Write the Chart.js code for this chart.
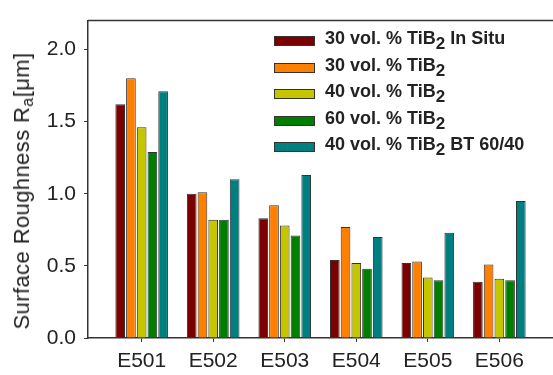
<!DOCTYPE html>
<html lang="en">
<head>
    <meta charset="UTF-8">
    <title>Surface Roughness</title>
    <script src="https://cdn.jsdelivr.net/npm/chart.js"></script>
    <style>
        body {
            margin: 0;
            background: #fff;
            font-family: 'Liberation Sans', Arial, sans-serif;
        }

        #wrap {
            position: relative;
            width: 553px;
            height: 375px;
        }

        #ytitle {
            position: absolute;
            left: 23px;
            top: 191px;
            transform: translate(-50%, -50%) rotate(-90deg);
            white-space: nowrap;
            font-size: 22px;
            letter-spacing: 0.4px;
            color: #222;
        }

        #ytitle sub {
            font-size: 16px;
            vertical-align: -4px;
        }

        #legend {
            position: absolute;
            left: 274px;
            top: 28px;
        }

        .row {
            display: flex;
            align-items: center;
            height: 26.5px;
            font-weight: bold;
            font-size: 18px;
            color: #222;
        }

        .row .box {
            width: 39px;
            height: 8px;
            border: 1px solid #333;
            margin-right: 10px;
        }

        .row sub {
            font-size: 17px;
            vertical-align: -5px;
        }
    </style>
</head>
<body>
    <div id="wrap">
        <canvas id="chart" width="553" height="375"></canvas>
        <div id="ytitle">Surface Roughness R<sub>a</sub>[μm]</div>
        <div id="legend"></div>
    </div>

    <script>
        const categories = ['E501', 'E502', 'E503', 'E504', 'E505', 'E506'];
        const yTicks = [0, 0.5, 1.0, 1.5, 2.0];

        const inSitu30 = [1.62, 1.00, 0.83, 0.54, 0.52, 0.39];
        const tib30 = [1.80, 1.01, 0.92, 0.77, 0.53, 0.51];
        const tib40 = [1.46, 0.82, 0.78, 0.52, 0.42, 0.41];
        const tib60 = [1.29, 0.82, 0.71, 0.48, 0.40, 0.40];
        const bt4060 = [1.71, 1.10, 1.13, 0.70, 0.73, 0.95];

        // legend label: [before sub, sub, after sub]
        const series = [
            { name: ['30 vol. % TiB', '2', ' In Situ'], data: inSitu30, color: '#7d0000' },
            { name: ['30 vol. % TiB', '2', ''], data: tib30, color: '#ff8000' },
            { name: ['40 vol. % TiB', '2', ''], data: tib40, color: '#c6c600' },
            { name: ['60 vol. % TiB', '2', ''], data: tib60, color: '#007e00' },
            { name: ['40 vol. % TiB', '2', ' BT 60/40'], data: bt4060, color: '#007f80' },
        ];

        const legend = document.getElementById('legend');
        series.forEach(s => {
            const row = document.createElement('div');
            row.className = 'row';
            row.innerHTML = `<span class="box" style="background:${s.color}"></span>` +
                `<span>${s.name[0]}<sub>${s.name[1]}</sub>${s.name[2]}</span>`;
            legend.appendChild(row);
        });

        const topLine = {
            id: 'topLine',
            afterDraw(chart) {
                const { ctx, chartArea } = chart;
                ctx.save();
                ctx.strokeStyle = '#333';
                ctx.lineWidth = 1.5;
                ctx.beginPath();
                ctx.moveTo(chartArea.left, chartArea.top);
                ctx.lineTo(chartArea.right, chartArea.top);
                ctx.stroke();
                ctx.restore();
            }
        };

        new Chart(document.getElementById('chart'), {
            type: 'bar',
            data: {
                datasets: series.map(s => ({
                    label: s.name.join(''),
                    data: s.data.map((v, i) => ({ x: i + 1, y: v })),
                    backgroundColor: s.color,
                    borderColor: '#333',
                    borderWidth: 1,
                    categoryPercentage: 0.75,
                    barPercentage: 0.9,
                })),
            },
            options: {
                responsive: false,
                animation: false,
                layout: { padding: { top: 9, right: 0, left: 0, bottom: 0 } },
                plugins: {
                    legend: { display: false },
                    tooltip: { enabled: false },
                },
                scales: {
                    x: {
                        type: 'linear',
                        offset: false,
                        min: 0.25,
                        max: 6.75,
                        afterBuildTicks: scale => {
                            scale.ticks = categories.map((c, i) => ({ value: i + 1 }));
                        },
                        afterFit: scale => { scale.height = 37; },
                        grid: { offset: false, drawOnChartArea: false, drawTicks: true, tickLength: 4, color: '#333' },
                        border: { display: true, color: '#333', width: 1.5 },
                        ticks: {
                            padding: 7,
                            color: '#222',
                            font: { family: 'Liberation Sans', size: 21 },
                            callback: v => categories[v - 1],
                        },
                    },
                    y: {
                        min: 0,
                        max: 2.2,
                        afterBuildTicks: scale => {
                            scale.ticks = yTicks.map(v => ({ value: v }));
                        },
                        afterFit: scale => { scale.width = 88; },
                        grid: { drawOnChartArea: false, drawTicks: true, tickLength: 4, color: '#333' },
                        border: { display: true, color: '#333', width: 1.5 },
                        ticks: {
                            padding: 8,
                            color: '#222',
                            font: { family: 'Liberation Sans', size: 21 },
                            callback: v => v.toFixed(1),
                        },
                    },
                },
            },
            plugins: [topLine],
        });
    </script>
</body>
</html>
